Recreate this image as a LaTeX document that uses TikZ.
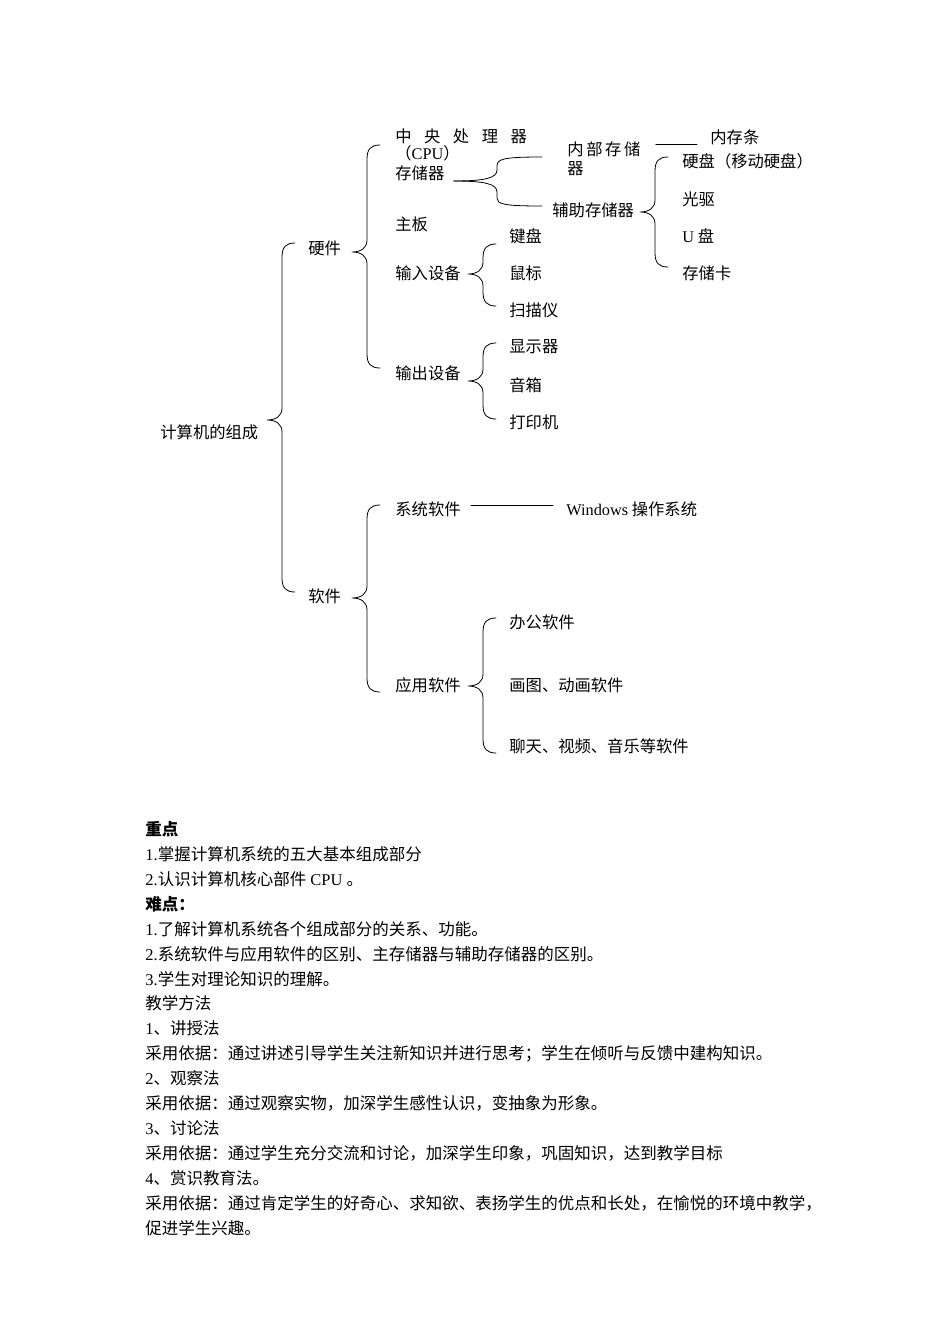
\documentclass[tikz,border=0pt]{standalone}
\usepackage{fontspec}
\setmainfont{Liberation Serif}
\newfontfamily\cjk{Noto Sans CJK SC}
\newfontfamily\latn{Liberation Serif}
\newcommand\lat[1]{{\latn #1}}
\usetikzlibrary{calc}
% brace: x of spine, top, cusp, bottom
\newcommand\curly[4]{%
 \draw ({#1+13},#2) .. controls ({#1+4},#2) and (#1,{#2+4}) .. (#1,{#2+14})
  -- (#1,{#3-12}) .. controls (#1,{#3-4}) and ({#1-6},#3) .. ({#1-15},#3)
  .. controls ({#1-6},#3) and (#1,{#3+4}) .. (#1,{#3+12})
  -- (#1,{#4-14}) .. controls (#1,{#4-4}) and ({#1+4},#4) .. ({#1+13},#4);}
\tikzset{
 lbl/.style={anchor=west,inner sep=0pt,font=\cjk\fontsize{16.3}{19}\selectfont},
 note/.style={anchor=west,inner sep=0pt,font=\cjk\fontsize{16.5}{20}\selectfont}
}

\begin{document}
\begin{tikzpicture}[x=1pt,y=-1pt,line width=.8pt,line cap=round,line join=round]
 \useasboundingbox (0,0) rectangle (950,1344);
 % root and first level
 \node[lbl] (root) at (160,432) {计算机的组成};
 \node[lbl] (hw) at (308,248) {硬件};
 \node[lbl] (sw) at (308,596) {软件};
 \curly{282}{243}{420}{592}
 % hardware
 \node[lbl] (cpu) at (395,136) {中\hspace{12.5pt}央\hspace{12.5pt}处\hspace{12.5pt}理\hspace{12.5pt}器};
 \node[lbl] (cpub) at (395,153) {（\lat{CPU}）};
 \node[lbl] (mem) at (395,173) {存储器};
 \node[lbl] (board) at (395,224) {主板};
 \node[lbl] (in) at (395,273) {输入设备};
 \node[lbl] (out) at (395,373) {输出设备};
 \curly{367}{145}{252}{368}
 % storage
 \node[lbl,align=left,anchor=north west] (ram) at (567,141) {内\hspace{2.6pt}部\hspace{2.6pt}存\hspace{2.6pt}储\\器};
 \node[lbl] (strip) at (710,137) {内存条};
 \node[lbl] (aux) at (552,210) {辅助存储器};
 \draw ([shift={(9pt,-8pt)}]mem.east) .. controls (485,181) and (497,178) .. (497,170)
  -- (497,166) .. controls (497,159) and (503,157) .. (542,157);
 \draw ([shift={(9pt,-8pt)}]mem.east) .. controls (485,181) and (497,184) .. (497,192)
  -- (497,198) .. controls (497,204) and (503,206) .. ([shift={(-10pt,4pt)}]aux.west);
 \draw ([shift={(15pt,-3pt)}]ram.north east) -- ([shift={(-13pt,-7pt)}]strip.west);
 \node[lbl] (hdd) at (682,161) {硬盘（移动硬盘）};
 \node[lbl] (cd) at (682,199) {光驱};
 \node[lbl] (usb) at (682,236) {\lat{U} 盘};
 \node[lbl] (card) at (682,273) {存储卡};
 \curly{655}{157}{212}{267}
 % input / output
 \node[lbl] (kbd) at (509,236) {键盘};
 \node[lbl] (mouse) at (509,273) {鼠标};
 \node[lbl] (scan) at (509,310) {扫描仪};
 \curly{483}{244}{274}{306}
 \node[lbl] (disp) at (509,347) {显示器};
 \node[lbl] (spk) at (509,385) {音箱};
 \node[lbl] (prn) at (509,422) {打印机};
 \curly{483}{343}{381}{419}
 % software
 \node[lbl] (sys) at (395,509) {系统软件};
 \node[lbl] (win) at (566,509) {\lat{Windows} 操作系统};
 \draw ([shift={(10pt,4pt)}]sys.east) -- ([shift={(-13pt,4pt)}]win.west);
 \node[lbl] (app) at (395,685) {应用软件};
 \curly{367}{505}{598}{692}
 \node[lbl] (office) at (509,622) {办公软件};
 \node[lbl] (draw) at (509,685) {画图、动画软件};
 \node[lbl] (chat) at (509,746) {聊天、视频、音乐等软件};
 \curly{483}{618}{686}{753}
 % notes below the chart
 \foreach \i/\txt in {0/{\bfseries 重点},
  1/{\lat{1.}掌握计算机系统的五大基本组成部分},
  2/{\lat{2.}认识计算机核心部件\lat{ CPU }。},
  3/{\bfseries 难点：},
  4/{\lat{1.}了解计算机系统各个组成部分的关系、功能。},
  5/{\lat{2.}系统软件与应用软件的区别、主存储器与辅助存储器的区别。},
  6/{\lat{3.}学生对理论知识的理解。},
  7/{教学方法},
  8/{\lat{1}、讲授法},
  9/{采用依据：通过讲述引导学生关注新知识并进行思考；学生在倾听与反馈中建构知识。},
  10/{\lat{2}、观察法},
  11/{采用依据：通过观察实物，加深学生感性认识，变抽象为形象。},
  12/{\lat{3}、讨论法},
  13/{采用依据：通过学生充分交流和讨论，加深学生印象，巩固知识，达到教学目标},
  14/{\lat{4}、赏识教育法。},
  15/{采用依据：通过肯定学生的好奇心、求知欲、表扬学生的优点和长处，在愉悦的环境中教学，},
  16/{促进学生兴趣。}}
  \node[note] (note\i) at (145,{829+24.95*\i}) {\txt};
\end{tikzpicture}
\end{document}
